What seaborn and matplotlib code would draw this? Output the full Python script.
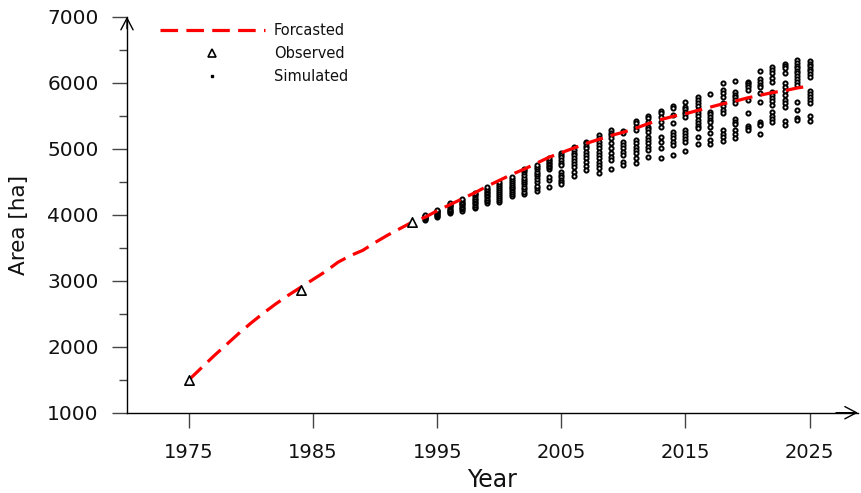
import numpy as np
import pandas as pd
import matplotlib
matplotlib.use("Agg")
import matplotlib.pyplot as plt
from matplotlib.lines import Line2D
import seaborn as sns

# ---------------- data ----------------
forecast_years = list(range(1975, 2026))
forecast_area = [1500, 1680, 1860, 2030, 2200, 2360, 2510, 2650, 2780, 2900,
                 3020, 3140, 3280, 3380, 3460, 3580, 3690, 3790, 3890, 3960,
                 4060, 4150, 4240, 4330, 4430, 4520, 4610, 4690, 4780, 4870,
                 4940, 5010, 5080, 5140, 5200, 5250, 5310, 5380, 5440, 5490,
                 5530, 5580, 5630, 5680, 5720, 5770, 5810, 5850, 5880, 5920,
                 5950]

observed_years = [1975, 1984, 1993]
observed_area = [1500, 2860, 3890]

sim_years = list(range(1994, 2026))
sim_values = [
    [3920, 3935, 3945, 3955, 3965, 3975, 3985, 3995],
    [3960, 3975, 3990, 4005, 4020, 4035, 4050, 4060, 4070],
    [4020, 4040, 4055, 4075, 4090, 4110, 4125, 4140, 4155, 4170],
    [4060, 4080, 4100, 4120, 4140, 4160, 4180, 4200, 4225, 4245],
    [4095, 4120, 4145, 4170, 4195, 4220, 4245, 4270, 4295, 4315, 4335],
    [4180, 4205, 4230, 4255, 4280, 4300, 4325, 4350, 4375, 4395, 4415],
    [4200, 4230, 4260, 4290, 4320, 4350, 4380, 4410, 4440, 4470, 4500],
    [4285, 4310, 4340, 4370, 4400, 4425, 4450, 4480, 4510, 4540, 4575],
    [4315, 4350, 4390, 4420, 4460, 4490, 4530, 4560, 4600, 4640, 4670, 4700],
    [4365, 4400, 4440, 4500, 4540, 4580, 4610, 4650, 4690, 4720, 4750],
    [4425, 4525, 4565, 4700, 4720, 4745, 4770, 4790, 4810, 4835, 4855],
    [4940, 4904, 4879, 4829, 4788, 4753, 4652, 4601, 4566, 4526, 4500, 4465],
    [5020, 4980, 4940, 4904, 4854, 4818, 4768, 4717, 4652, 4586],
    [5106, 5081, 5041, 5005, 4955, 4904, 4854, 4803, 4738, 4677],
    [5207, 5157, 5106, 5056, 5005, 4955, 4904, 4854, 4803, 4753, 4702, 4637],
    [5283, 5243, 5207, 5157, 5081, 5005, 4930, 4879, 4829, 4692],
    [5273, 5243, 5106, 5056, 5005, 4955, 4904, 4803, 4753],
    [5424, 5384, 5334, 5283, 5132, 5081, 5031, 4980, 4930, 4854, 4788],
    [5495, 5460, 5409, 5334, 5293, 5258, 5182, 5132, 5081, 5031, 4980, 4879],
    [5576, 5536, 5485, 5409, 5334, 5182, 5106, 5005, 4854],
    [5647, 5611, 5510, 5384, 5258, 5207, 5157, 5106, 5056, 4904],
    [5712, 5637, 5600, 5560, 5520, 5485, 5283, 5240, 5200, 5150, 5106, 4965],
    [5788, 5740, 5690, 5640, 5590, 5540, 5490, 5440, 5390, 5340, 5308, 5172, 5071],
    [5823, 5561, 5520, 5480, 5440, 5400, 5334, 5243, 5132, 5071],
    [5990, 5889, 5839, 5788, 5687, 5640, 5590, 5536, 5283, 5230, 5180, 5121],
    [6030, 5864, 5820, 5780, 5740, 5687, 5445, 5410, 5374, 5283, 5220, 5157],
    [6015, 5990, 5965, 5940, 5889, 5740, 5536, 5344, 5310, 5283],
    [6182, 6051, 6010, 5970, 5940, 5839, 5712, 5409, 5380, 5359, 5222],
    [6232, 6190, 6142, 6066, 6015, 5864, 5820, 5770, 5720, 5662, 5561, 5500, 5450, 5409],
    [6283, 6250, 6217, 6142, 5990, 5940, 5880, 5813, 5738, 5690, 5637, 5424, 5359],
    [6344, 6300, 6260, 6220, 6180, 6140, 6100, 6050, 6010, 5965, 5712, 5586, 5460, 5435],
    [6328, 6290, 6250, 6210, 6170, 6130, 6091, 5879, 5830, 5780, 5740, 5687, 5495, 5419],
]

x_ticks = [1975, 1985, 1995, 2005, 2015, 2025]
y_ticks = [1000, 2000, 3000, 4000, 5000, 6000, 7000]

# ---------------- frames ----------------
df_fc = pd.DataFrame({"Year": forecast_years, "Area": forecast_area})
df_obs = pd.DataFrame({"Year": observed_years, "Area": observed_area})
df_sim = pd.DataFrame(
    [(y, v) for y, vals in zip(sim_years, sim_values) for v in vals],
    columns=["Year", "Area"])

# ---------------- plot ----------------
sns.set_style("ticks")
plt.rcParams["font.family"] = ["DejaVu Sans"]

fig = plt.figure(figsize=(8.61, 4.93), dpi=100)
ax = fig.add_axes([127 / 861, 1 - 412.7 / 493, 731 / 861, 396 / 493])

sns.scatterplot(data=df_sim, x="Year", y="Area", ax=ax, marker="o", s=9,
                facecolor="white", edgecolor="black", linewidth=1.4,
                zorder=3, legend=False)
sns.lineplot(data=df_fc, x="Year", y="Area", ax=ax, color="#ff0000",
             linewidth=2.3, dashes=False, zorder=4, legend=False)
ax.lines[-1].set_dashes((5.5, 2.6))
sns.scatterplot(data=df_obs, x="Year", y="Area", ax=ax, marker="^", s=45,
                facecolor="white", edgecolor="black", linewidth=1.2,
                zorder=5, legend=False)

ax.set_xlim(1970, 2028.9)
ax.set_ylim(1000, 7000)
ax.set_xticks(x_ticks)
ax.set_yticks(y_ticks)
ax.set_yticks([1500, 2500, 3500, 4500, 5500, 6500], minor=True)

for s in ["top", "right"]:
    ax.spines[s].set_visible(False)
for s in ["left", "bottom"]:
    ax.spines[s].set_color("black")
    ax.spines[s].set_linewidth(1.0)

ax.tick_params(axis="x", which="major", direction="out", length=11,
               width=1.0, color="#444444", labelsize=14, pad=11,
               labelcolor="#111111")
ax.tick_params(axis="y", which="major", direction="out", length=10.5,
               width=1.0, color="#444444", labelsize=14.5, pad=10,
               labelcolor="#111111")
ax.tick_params(axis="y", which="minor", direction="out", length=6,
               width=1.0, color="#444444")

ax.set_xlabel("Year", fontsize=17, labelpad=4, color="#111111")
ax.set_ylabel("Area [ha]", fontsize=15.5, color="#111111")
ax.yaxis.set_label_coords(-0.134, 0.474)

# arrow heads on axes
arrow_kw = dict(arrowstyle="->,head_length=0.42,head_width=0.22",
                lw=1.0, color="black", mutation_scale=20, shrinkA=0, shrinkB=0)
ax.annotate("", xy=(0, 1.0), xytext=(0, 0.97), xycoords="axes fraction",
            textcoords="axes fraction", arrowprops=arrow_kw, annotation_clip=False)
ax.annotate("", xy=(1.0, 0), xytext=(0.97, 0), xycoords="axes fraction",
            textcoords="axes fraction", arrowprops=arrow_kw, annotation_clip=False)

handles = [
    Line2D([], [], color="#ff0000", lw=2.3, dashes=(5.5, 2.6)),
    Line2D([], [], ls="none", marker="^", ms=6, mfc="white", mec="black", mew=1.2),
    Line2D([], [], ls="none", marker="s", ms=2.0, mfc="black", mec="black"),
]
leg = ax.legend(handles, ["Forcasted", "Observed", "Simulated"], loc="upper left",
                bbox_to_anchor=(0.045, 0.985), frameon=False, fontsize=10.5,
                handlelength=7.2, handletextpad=0.6, labelspacing=0.55,
                borderpad=0, borderaxespad=0)
for t in leg.get_texts():
    t.set_color("#111111")

fig.savefig("out.png", dpi=100)
